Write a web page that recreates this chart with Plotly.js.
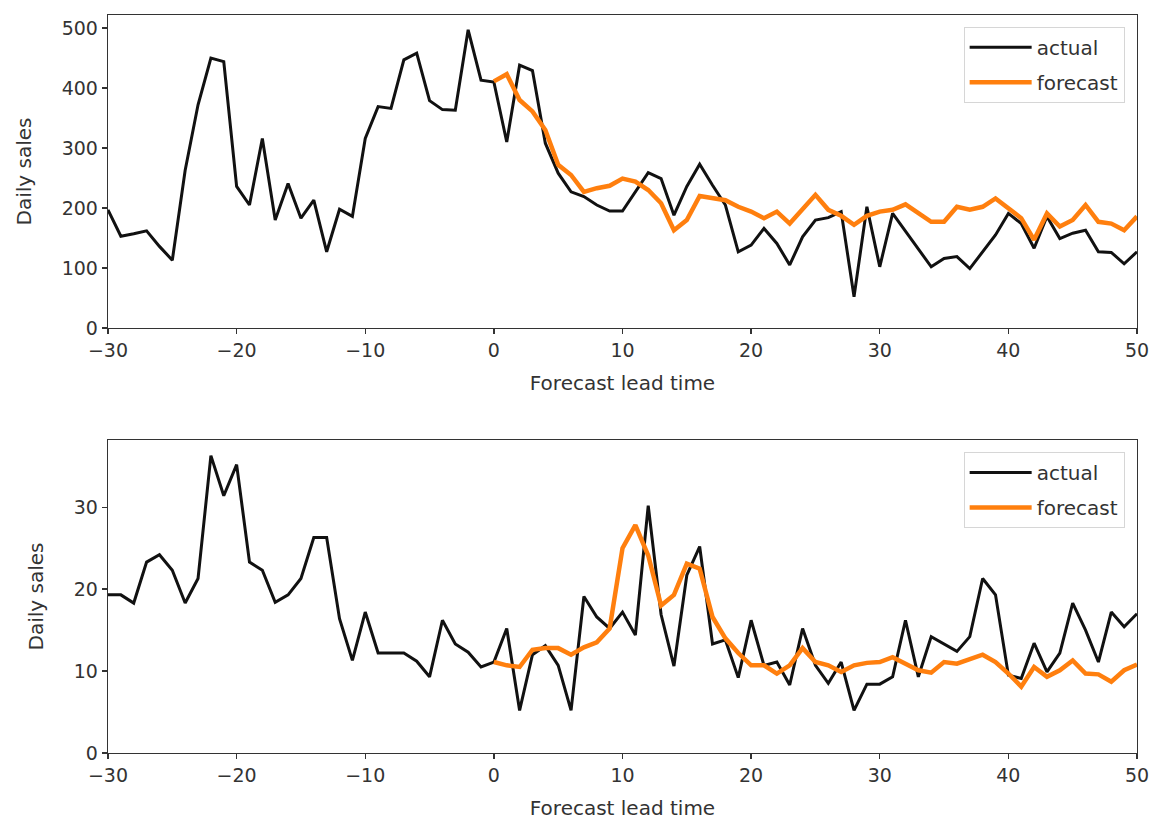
<!DOCTYPE html>
<html>
<head>
<meta charset="utf-8">
<script src="https://cdn.plot.ly/plotly-3.0.1.min.js"></script>
<style>html,body{margin:0;padding:0;background:#fff;}#chart{width:1153px;height:822px;}</style>
</head>
<body>
<div id="chart"></div>
<script>
// Lead times
const leadHist = [-30,-29,-28,-27,-26,-25,-24,-23,-22,-21,-20,-19,-18,-17,-16,-15,-14,-13,-12,-11,-10,-9,-8,-7,-6,-5,-4,-3,-2,-1,
  0,1,2,3,4,5,6,7,8,9,10,11,12,13,14,15,16,17,18,19,20,21,22,23,24,25,26,27,28,29,30,31,32,33,34,35,36,37,38,39,40,41,42,43,44,45,46,47,48,49,50];
const leadFc = [0,1,2,3,4,5,6,7,8,9,10,11,12,13,14,15,16,17,18,19,20,21,22,23,24,25,26,27,28,29,30,31,32,33,34,35,36,37,38,39,40,41,42,43,44,45,46,47,48,49,50];

// Top panel
const actual1 = [197,153,157,162,136,113,263,372,450,444,236,205,316,180,241,183,213,127,198,186,
  316,369,366,447,458,379,364,363,497,413,
  410,310,438,429,308,258,227,219,205,195,195,227,259,249,188,236,273,238,205,127,
  138,166,141,105,152,180,184,194,52,202,102,191,161,133,102,116,119,99,127,155,
  191,174,133,186,149,158,163,127,126,107,127];
const forecast1 = [411,423,380,361,330,272,255,227,233,237,
  249,244,230,208,163,180,220,216,213,202,
  194,183,194,174,197,222,197,187,172,187,
  194,197,206,191,177,177,202,197,202,216,
  199,183,147,191,169,180,205,177,174,163,186];

// Bottom panel
const actual2 = [19.3,19.3,18.3,23.3,24.2,22.3,18.3,21.3,36.3,31.4,35.2,23.3,22.3,18.4,19.3,21.3,26.3,26.3,16.4,11.3,
  17.2,12.2,12.2,12.2,11.2,9.3,16.2,13.3,12.3,10.5,
  11.1,15.2,5.2,12.0,13.1,10.7,5.2,19.1,16.6,15.2,17.2,14.4,30.2,16.9,10.6,21.7,25.2,13.3,13.8,9.2,
  16.2,10.7,11.1,8.3,15.2,10.7,8.5,11.1,5.2,8.4,8.4,9.3,16.2,9.3,14.2,13.3,12.4,14.2,21.3,19.3,
  9.5,9.1,13.4,9.9,12.2,18.3,15.0,11.1,17.2,15.4,17.0];
const forecast2 = [11.1,10.7,10.5,12.6,12.8,12.8,12.0,12.9,13.5,15.2,
  25.0,27.8,24.1,18.0,19.3,23.1,22.5,16.6,14.0,12.2,
  10.7,10.7,9.7,10.7,12.8,11.1,10.7,9.9,10.7,11.0,
  11.1,11.7,10.9,10.1,9.8,11.1,10.9,11.4,12.0,11.1,
  9.7,8.1,10.5,9.3,10.1,11.3,9.7,9.6,8.7,10.1,10.8];

const xTicks = [-30,-20,-10,0,10,20,30,40,50];
const yTicks1 = [0,100,200,300,400,500];
const yTicks2 = [0,10,20,30];

const FONT = 'DejaVu Sans, sans-serif';
const txt = '#333';
const black = '#111';
const orange = '#ff7f0e';

const traces = [
  {x: leadHist, y: actual1, type: 'scatter', mode: 'lines', name: 'actual', legendgroup: 'a1',
   line: {color: black, width: 3}, xaxis: 'x', yaxis: 'y', legend: 'legend'},
  {x: leadFc, y: forecast1, type: 'scatter', mode: 'lines', name: 'forecast', legendgroup: 'f1',
   line: {color: orange, width: 4.5}, xaxis: 'x', yaxis: 'y', legend: 'legend'},
  {x: leadHist, y: actual2, type: 'scatter', mode: 'lines', name: 'actual', legendgroup: 'a2',
   line: {color: black, width: 3}, xaxis: 'x2', yaxis: 'y2', legend: 'legend2'},
  {x: leadFc, y: forecast2, type: 'scatter', mode: 'lines', name: 'forecast', legendgroup: 'f2',
   line: {color: orange, width: 4.5}, xaxis: 'x2', yaxis: 'y2', legend: 'legend2'}
];

function xax(anchor) {
  return {
    domain: [0, 1], anchor: anchor, range: [-30, 50],
    tickvals: xTicks, ticktext: xTicks.map(v => v < 0 ? '\u2212' + Math.abs(v) : String(v)),
    ticks: 'outside', ticklen: 5, tickwidth: 1.3, tickcolor: '#333',
    showline: true, linecolor: '#333', linewidth: 1.3, mirror: true,
    showgrid: false, zeroline: false,
    tickfont: {family: FONT, size: 19, color: txt},
    title: {text: 'Forecast lead time', font: {family: FONT, size: 20, color: txt}, standoff: 16}
  };
}
function yax(anchor, domain, range, ticks) {
  return {
    domain: domain, anchor: anchor, range: range,
    tickvals: ticks,
    ticks: 'outside', ticklen: 5, tickwidth: 1.3, tickcolor: '#333',
    showline: true, linecolor: '#333', linewidth: 1.3, mirror: true,
    showgrid: false, zeroline: false,
    tickfont: {family: FONT, size: 19, color: txt},
    title: {text: 'Daily sales', font: {family: FONT, size: 20, color: txt}, standoff: 24}
  };
}

const legendStyle = {
  font: {family: FONT, size: 20, color: txt},
  bgcolor: '#fff', bordercolor: '#d6d6d6', borderwidth: 1,
  xanchor: 'right', yanchor: 'top', xref: 'paper', yref: 'paper',
  traceorder: 'grouped', tracegroupgap: 6, itemwidth: 62
};

const layout = {
  width: 1153, height: 822,
  margin: {l: 108, r: 16, t: 15, b: 69},
  paper_bgcolor: '#fff', plot_bgcolor: '#fff',
  font: {family: FONT, color: txt},
  showlegend: true,
  xaxis: xax('y'),
  yaxis: yax('x', [0.5759, 1], [0, 521.7], yTicks1),
  xaxis2: xax('y2'),
  yaxis2: yax('x2', [0, 0.4241], [0, 38.2], yTicks2),
  legend: Object.assign({x: 0.988, y: 0.984}, legendStyle),
  legend2: Object.assign({x: 0.988, y: 0.408}, legendStyle)
};

Plotly.newPlot('chart', traces, layout, {displayModeBar: false, staticPlot: true});
</script>
</body>
</html>
